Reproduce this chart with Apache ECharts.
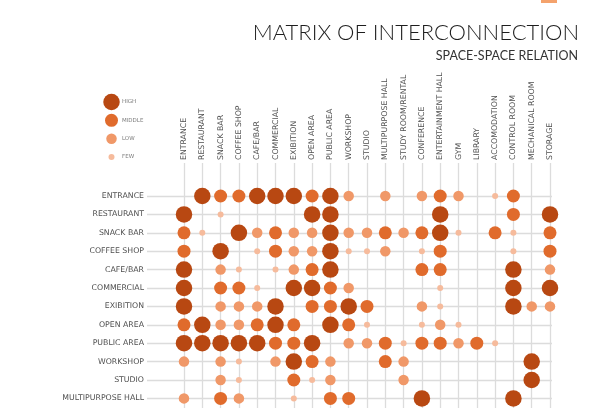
<!DOCTYPE html>
<html>
<head>
<meta charset="utf-8">
<script src="https://cdn.jsdelivr.net/npm/echarts@6/dist/echarts.min.js"></script>
<style>
  html, body { margin: 0; padding: 0; background: #ffffff; }
  #chart { width: 596px; height: 408px; }
</style>
</head>
<body>
<div id="chart"></div>
<script>
// Spaces of the building, in matrix order (columns); the rows list the first twelve.
const spaces = ['ENTRANCE', 'RESTAURANT', 'SNACK BAR', 'COFFEE SHOP', 'CAFE/BAR', 'COMMERCIAL',
  'EXIBITION', 'OPEN AREA', 'PUBLIC AREA', 'WORKSHOP', 'STUDIO', 'MULTIPURPOSE HALL',
  'STUDY ROOM/RENTAL', 'CONFERENCE', 'ENTERTAINMENT HALL', 'GYM', 'LIBRARY', 'ACCOMODATION',
  'CONTROL ROOM', 'MECHANICAL ROOM', 'STORAGE'];
const rowSpaces = spaces.slice(0, 12);

// Strength of each relation: 0 none, 1 few, 2 low, 3 middle, 4 high.
const levelNames = ['FEW', 'LOW', 'MIDDLE', 'HIGH'];
const entrance      = [0,4,3,3,4,4,4,3,4,2,0,2,0,2,3,2,0,1,3,0,0];
const restaurant    = [4,0,1,0,0,0,0,4,4,0,0,0,0,0,4,0,0,0,3,0,4];
const snackBar      = [3,1,0,4,2,3,2,2,4,2,2,3,2,3,4,1,0,3,1,0,3];
const coffeeShop    = [3,0,4,0,1,3,2,2,4,1,1,2,0,1,3,0,0,0,1,0,3];
const cafeBar       = [4,0,2,1,0,1,2,3,4,0,0,0,0,3,3,0,0,0,4,0,2];
const commercial    = [4,0,3,3,1,0,4,4,3,2,0,0,0,0,1,0,0,0,4,0,4];
const exibition     = [4,0,2,2,2,4,0,3,3,4,3,0,0,2,1,0,0,0,4,2,2];
const openArea      = [3,4,2,2,3,4,3,0,4,3,1,0,0,1,2,1,0,0,0,0,0];
const publicArea    = [4,4,4,4,4,3,3,4,0,2,2,3,1,3,3,2,3,1,0,0,0];
const workshop      = [2,0,2,1,0,2,4,3,2,0,0,3,2,0,0,0,0,0,0,4,0];
const studio        = [0,0,2,1,0,0,3,1,2,0,0,0,2,0,0,0,0,0,0,4,0];
const multipurpose  = [2,0,3,2,0,0,1,0,3,3,0,0,0,4,0,0,0,0,4,0,0];
const relations = [entrance, restaurant, snackBar, coffeeShop, cafeBar, commercial,
  exibition, openArea, publicArea, workshop, studio, multipurpose];

// Dot look per strength (index = strength - 1)
const dotSizes  = [6, 10.5, 13, 16.5];
const dotColors = ['#f6bb9c', '#f09868', '#e06b2c', '#b84812'];

const points = [];
relations.forEach((row, r) => {
  row.forEach((v, c) => {
    if (v > 0) points.push([spaces[c], rowSpaces[r], v]);
  });
});
// Key, strongest first
const keyOrder = levelNames.slice().reverse();
const keyItems = keyOrder.map(name => [0, name, levelNames.indexOf(name) + 1]);

const labelFont = 'DejaVu Sans';
const lineColor = '#dcdcdc';

const chart = echarts.init(document.getElementById('chart'), null, { renderer: 'canvas' });
chart.setOption({
  backgroundColor: '#ffffff',
  animation: false,
  title: [
    {
      text: 'MATRIX OF INTERCONNECTION',
      right: 12, top: 17,
      textStyle: { fontFamily: 'Lato', fontWeight: 300, fontSize: 22, color: '#1e1e1e' }
    },
    {
      text: 'SPACE-SPACE RELATION',
      right: 13, top: 44,
      textStyle: { fontFamily: 'Lato', fontWeight: 'normal', fontSize: 12.5, color: '#333333' }
    }
  ],
  graphic: [
    { type: 'rect', left: 541, top: -3, shape: { width: 16, height: 6 }, style: { fill: '#f4a26c' } }
  ],
  grid: [
    { left: 184, right: 46, top: 196, bottom: 9.6 },   // dots
    { left: 184, right: 46, top: 163, bottom: 0 },     // column lines + labels
    { left: 147, right: 44, top: 196, bottom: 9.6 },   // row lines + labels
    { left: 111, width: 1, top: 102, height: 55 }      // key
  ],
  xAxis: [
    { gridIndex: 0, type: 'category', data: spaces, boundaryGap: false, show: false },
    {
      gridIndex: 1, type: 'category', data: spaces, boundaryGap: false, position: 'top',
      axisLine: { show: false }, axisTick: { show: false },
      axisLabel: { interval: 0, rotate: 90, margin: 3, fontFamily: labelFont, fontSize: 7.8, color: '#505050' },
      splitLine: { show: true, interval: 0, lineStyle: { color: lineColor, width: 1.3 } }
    },
    { gridIndex: 2, type: 'value', show: false },
    { gridIndex: 3, type: 'value', min: -1, max: 1, show: false }
  ],
  yAxis: [
    { gridIndex: 0, type: 'category', data: rowSpaces, inverse: true, boundaryGap: false, show: false },
    { gridIndex: 1, type: 'value', show: false },
    {
      gridIndex: 2, type: 'category', data: rowSpaces, inverse: true, boundaryGap: false,
      axisLine: { show: false }, axisTick: { show: false },
      axisLabel: { interval: 0, margin: 3, fontFamily: labelFont, fontSize: 7.8, color: '#505050' },
      splitLine: { show: true, interval: 0, lineStyle: { color: lineColor, width: 1.3 } }
    },
    {
      gridIndex: 3, type: 'category', data: keyOrder, inverse: true,
      boundaryGap: false, position: 'right',
      axisLine: { show: false }, axisTick: { show: false }, splitLine: { show: false },
      axisLabel: { interval: 0, margin: 10, fontFamily: labelFont, fontSize: 5.5, color: '#7a7a7a' }
    }
  ],
  series: [
    {
      type: 'scatter', xAxisIndex: 0, yAxisIndex: 0,
      data: points,
      symbolSize: d => dotSizes[d[2] - 1],
      itemStyle: { color: p => dotColors[p.data[2] - 1], opacity: 1 }
    },
    {
      type: 'scatter', xAxisIndex: 3, yAxisIndex: 3,
      data: keyItems,
      symbolSize: d => dotSizes[d[2] - 1],
      itemStyle: { color: p => dotColors[p.data[2] - 1], opacity: 1 }
    }
  ]
});
</script>
</body>
</html>
